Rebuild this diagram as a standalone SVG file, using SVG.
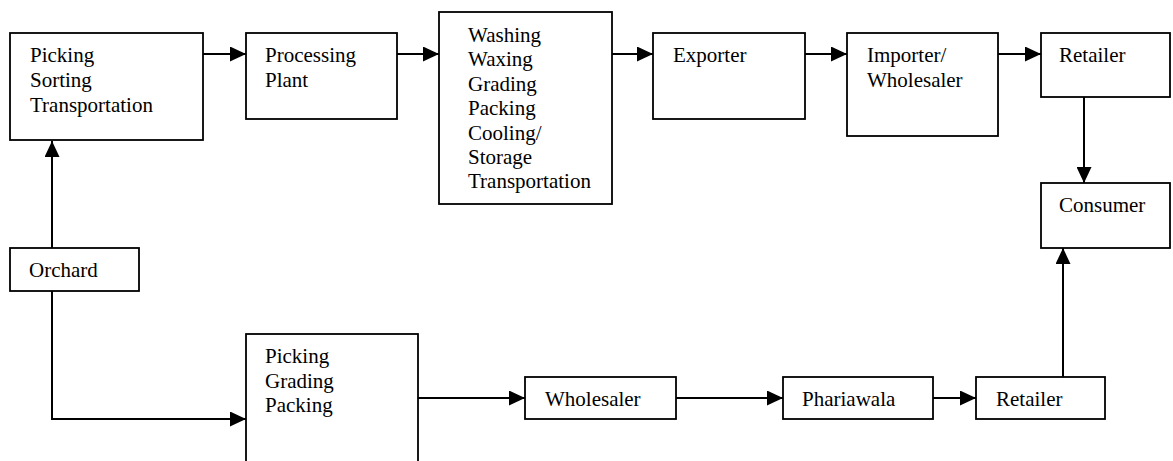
<svg xmlns="http://www.w3.org/2000/svg" width="1173" height="461" viewBox="0 0 1173 461">
  <style>
    .box { fill: #ffffff; stroke: #000000; stroke-width: 1.8; }
    .lbl { font-family: 'Liberation Serif', 'Times New Roman', 'DejaVu Serif', serif; font-size: 21px; fill: #000000; }
    .conn { fill: none; stroke: #000000; stroke-width: 2; marker-end: url(#arrow); }
  </style>
  <defs>
    <marker id="arrow" markerUnits="userSpaceOnUse" markerWidth="16" markerHeight="15" refX="16" refY="7.5" orient="auto">
      <path d="M0,0 L16,7.5 L0,15 Z" fill="#000000"/>
    </marker>
  </defs>

  <rect width="1173" height="461" fill="#ffffff"/>

  <!-- connectors -->
  <g id="connectors">
    <path class="conn" d="M52,248 V141"/>
    <path class="conn" d="M203,54 H246"/>
    <path class="conn" d="M397,54 H439"/>
    <path class="conn" d="M612,54 H653"/>
    <path class="conn" d="M805,54 H847"/>
    <path class="conn" d="M998,54 H1041"/>
    <path class="conn" d="M1084,97 V183"/>
    <path class="conn" d="M52,291 V419 H246"/>
    <path class="conn" d="M418,398 H525"/>
    <path class="conn" d="M676,398 H783"/>
    <path class="conn" d="M933,398 H976"/>
    <path class="conn" d="M1063,377 V248"/>
  </g>

  <!-- upper chain -->
  <g id="picking-sorting">
    <rect class="box" x="10" y="33" width="193" height="107"/>
    <text class="lbl" font-family="Liberation Serif, serif" x="30" y="62">Picking</text>
    <text class="lbl" x="30" y="87">Sorting</text>
    <text class="lbl" x="30" y="112">Transportation</text>
  </g>
  <g id="processing-plant">
    <rect class="box" x="246" y="33" width="151" height="86"/>
    <text class="lbl" x="265" y="62">Processing</text>
    <text class="lbl" x="265" y="87">Plant</text>
  </g>
  <g id="washing">
    <rect class="box" x="439" y="12" width="173" height="192"/>
    <text class="lbl" x="468" y="42">Washing</text>
    <text class="lbl" x="468" y="66">Waxing</text>
    <text class="lbl" x="468" y="91">Grading</text>
    <text class="lbl" x="468" y="115">Packing</text>
    <text class="lbl" x="468" y="140">Cooling/</text>
    <text class="lbl" x="468" y="164">Storage</text>
    <text class="lbl" x="468" y="188">Transportation</text>
  </g>
  <g id="exporter">
    <rect class="box" x="653" y="33" width="152" height="86"/>
    <text class="lbl" x="673" y="62">Exporter</text>
  </g>
  <g id="importer">
    <rect class="box" x="847" y="33" width="151" height="103"/>
    <text class="lbl" x="867" y="62">Importer/</text>
    <text class="lbl" x="867" y="87">Wholesaler</text>
  </g>
  <g id="retailer-top">
    <rect class="box" x="1041" y="33" width="129" height="64"/>
    <text class="lbl" x="1059" y="62">Retailer</text>
  </g>
  <g id="consumer">
    <rect class="box" x="1041" y="183" width="129" height="65"/>
    <text class="lbl" x="1059" y="212">Consumer</text>
  </g>

  <!-- source -->
  <g id="orchard">
    <rect class="box" x="10" y="248" width="129" height="43"/>
    <text class="lbl" x="29" y="277">Orchard</text>
  </g>

  <!-- lower chain -->
  <g id="picking-grading">
    <rect class="box" x="246" y="334" width="172" height="140"/>
    <text class="lbl" x="265" y="363">Picking</text>
    <text class="lbl" x="265" y="388">Grading</text>
    <text class="lbl" x="265" y="412">Packing</text>
  </g>
  <g id="wholesaler">
    <rect class="box" x="525" y="377" width="151" height="42"/>
    <text class="lbl" x="545" y="406">Wholesaler</text>
  </g>
  <g id="phariawala">
    <rect class="box" x="783" y="377" width="150" height="42"/>
    <text class="lbl" x="802" y="406">Phariawala</text>
  </g>
  <g id="retailer-bottom">
    <rect class="box" x="976" y="377" width="129" height="42"/>
    <text class="lbl" x="996" y="406">Retailer</text>
  </g>
</svg>
